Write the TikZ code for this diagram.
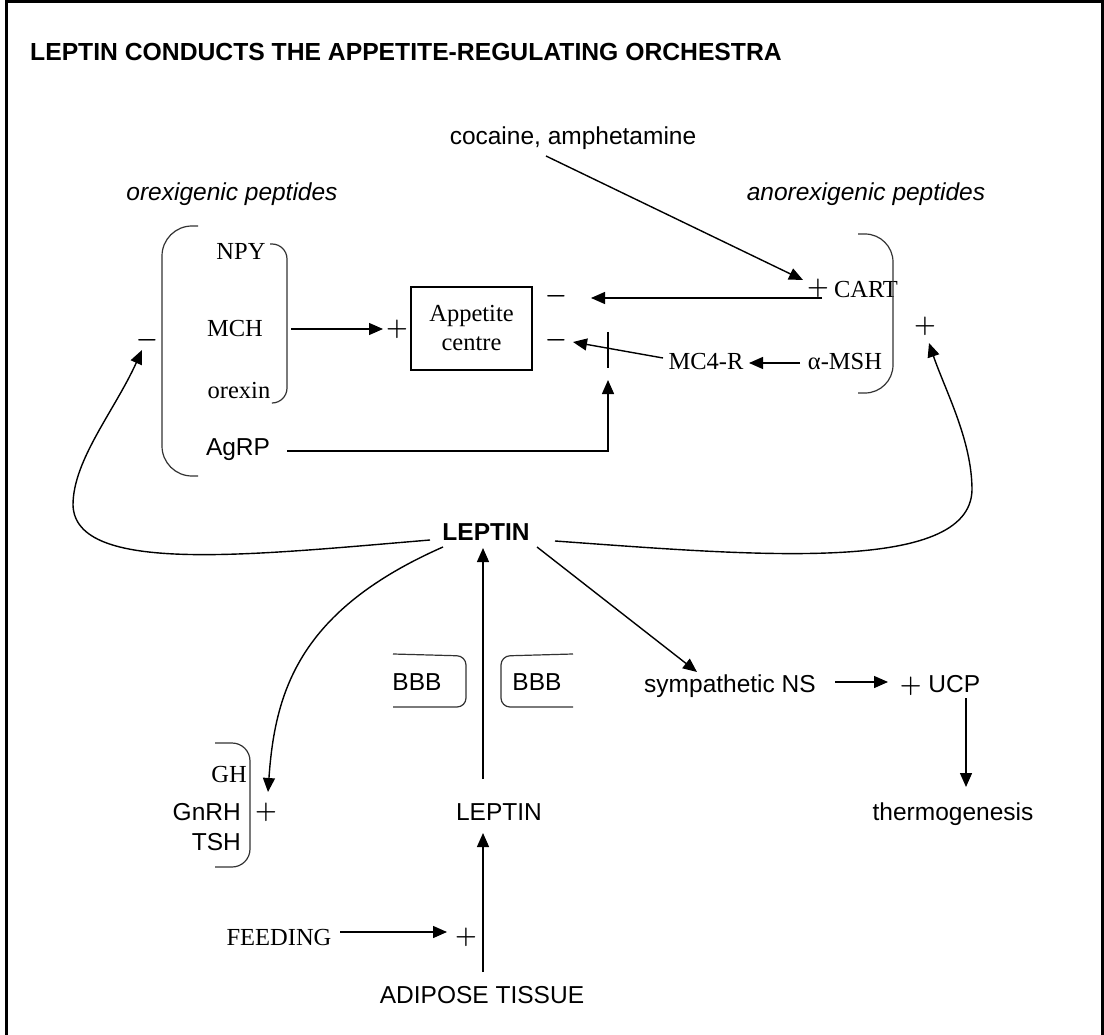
\documentclass[tikz,border=0pt]{standalone}
\usepackage{fontspec}
\setmainfont{Liberation Serif}
\newfontfamily\arialf{Liberation Sans}
\usetikzlibrary{arrows.meta}
\begin{document}
\begin{tikzpicture}[x=1pt,y=-1pt,
  every node/.style={inner sep=0pt, anchor=base},
  ss/.style={font=\arialf\fontsize{24.5}{29}\selectfont},
  rm/.style={font=\fontsize{24.5}{29}\selectfont},
  sign/.style={font=\fontsize{24.5}{29}\selectfont\boldmath},
  arr/.style={line width=1.4pt, -{Triangle[length=14pt,width=12pt]}},
  ln/.style={line width=1.4pt},
  brk/.style={line width=1.2pt, draw=black!80},
]
\useasboundingbox (0,0) rectangle (1104,1035);
% frame
\draw[line width=3pt] (6,1035) -- (6,1.5) -- (1102.5,1.5) -- (1102.5,1035);

% title
\node[ss, font=\arialf\bfseries\fontsize{24.7}{29}\selectfont, anchor=base west] (title) at (30,61) {LEPTIN CONDUCTS THE APPETITE-REGULATING ORCHESTRA};

\node[ss] (coc) at (573,145) {cocaine, amphetamine};
\node[ss, font=\arialf\itshape\fontsize{24.5}{29}\selectfont] (orex) at (232,201) {orexigenic peptides};
\node[ss, font=\arialf\itshape\fontsize{24.5}{29}\selectfont] (anorex) at (866,201) {anorexigenic peptides};

% orexigenic group
\node[rm] (npy) at (241,260) {NPY};
\node[rm] (mch) at (235,337) {MCH};
\node[rm] (orx) at (239,398) {orexin};
\node[ss] (agrp) at (238,455) {AgRP};
\draw[brk, rounded corners=30pt] (198,226) -- (162,226) -- (162,476) -- (198,476);
\draw[brk, rounded corners=15pt] (270,244) -- (287,244) -- (287,403) -- (273,403);
\node[sign] (minL) at (147,346) {\(-\)};

% appetite centre
\node[draw, line width=1.5pt, minimum width=121pt, minimum height=83pt, anchor=center, align=center, rm, inner sep=0pt] (app) at (471.5,328.5) {Appetite\\centre};
\node[sign] (plusA) at (397,335) {\(+\)};
\node[sign] (min1) at (556,303) {\(-\)};
\node[sign] (min2) at (556,347) {\(-\)};

% anorexigenic group
\node[sign] (cartp) at (818,295) {\(+\)};
\node[rm] (cart) at (866,298) {CART};
\node[rm] (mc4r) at (706,370) {MC4-R};
\node[rm] (amsh) at (845,370) {α-MSH};
\draw[brk, rounded corners=28pt] (858,234) -- (893,234) -- (893,393) -- (858,393);
\node[sign] (plusR) at (925,333) {\(+\)};

% leptin centre
\node[ss, font=\arialf\bfseries\fontsize{24.5}{29}\selectfont] (lep) at (486,540) {LEPTIN};

% BBB
\node[ss] (bbb1) at (417,690) {BBB};
\node[ss] (bbb2) at (537,690) {BBB};
\draw[brk, rounded corners=9pt] (393,654) -- (466,656) -- (466,707) -- (393,707);
\draw[brk, rounded corners=9pt] (573,654) -- (501,656) -- (501,707) -- (573,707);

% lower right
\node[ss] (sns) at (730,692) {sympathetic NS};
\node[ss] (ucp) at (940,692) {{\boldmath\(+\)} UCP};
\node[ss] (thermo) at (953,820) {thermogenesis};

% GH group
\node[rm, anchor=base east] (gh) at (247,782) {GH};
\node[ss, anchor=base east] (gnrh) at (241,820) {GnRH};
\node[ss, anchor=base east] (tsh) at (241,850) {TSH};
\draw[brk, rounded corners=18pt] (215,743) -- (250,743) -- (250,867) -- (215,867);
\node[sign] (plusG) at (266,818) {\(+\)};

% bottom
\node[ss] (lep2) at (499,820) {LEPTIN};
\node[rm] (feed) at (279,945) {FEEDING};
\node[sign] (plusF) at (466,943) {\(+\)};
\node[ss] (adip) at (482,1003) {ADIPOSE TISSUE};

% coordinates
\coordinate (cocS) at (546,156);
\coordinate (cocE) at (803,280);
\coordinate (cartS) at (822,298);
\coordinate (cartE) at (591,298);
\coordinate (msS) at (800,363);
\coordinate (msE) at (749,363);
\coordinate (mcS) at (663,358);
\coordinate (mcE) at (573,342);
\coordinate (barT) at (608,332);
\coordinate (barB) at (608,368);
\coordinate (agS) at (287,451);
\coordinate (agC) at (608,451);
\coordinate (agE) at (608,380);
\coordinate (mchS) at (291,329);
\coordinate (mchE) at (383,329);
\coordinate (lepL) at (430,540);
\coordinate (lepR) at (555,541);
\coordinate (lepG) at (443,547);
\coordinate (lepS) at (537,547);
\coordinate (lepB) at (483,548);
\coordinate (l2T) at (483,779);
\coordinate (l2B) at (483,833);
\coordinate (adT) at (483,972);
\coordinate (fdS) at (340,932);
\coordinate (fdE) at (447,932);
\coordinate (snsE) at (697,672);
\coordinate (snsR) at (835,682);
\coordinate (ucpL) at (888,682);
\coordinate (ucpB) at (966,698);
\coordinate (thT) at (966,787);
\coordinate (ghT) at (268,792);
\coordinate (minLT) at (142,350);
\coordinate (plusRT) at (929,343);

% connectors
\draw[arr] (mchS) -- (mchE);
\draw[arr] (cocS) -- (cocE);
\draw[arr] (cartS) -- (cartE);
\draw[arr] (msS) -- (msE);
\draw[arr] (mcS) -- (mcE);
\draw[ln] (barT) -- (barB);
\draw[arr] (agS) -- (agC) -- (agE);
\draw[arr] (lepL) .. controls (250,555) and (75,575) .. (73,505) .. controls (73,460) and (115,410) .. (minLT);
\draw[arr] (lepR) .. controls (750,555) and (970,575) .. (972,490) .. controls (972,440) and (945,390) .. (plusRT);
\draw[arr] (lepG) .. controls (300,610) and (275,690) .. (ghT);
\draw[arr] (l2T) -- (lepB);
\draw[arr] (lepS) -- (snsE);
\draw[arr] (snsR) -- (ucpL);
\draw[arr] (ucpB) -- (thT);
\draw[arr] (adT) -- (l2B);
\draw[arr] (fdS) -- (fdE);
\end{tikzpicture}
\end{document}
